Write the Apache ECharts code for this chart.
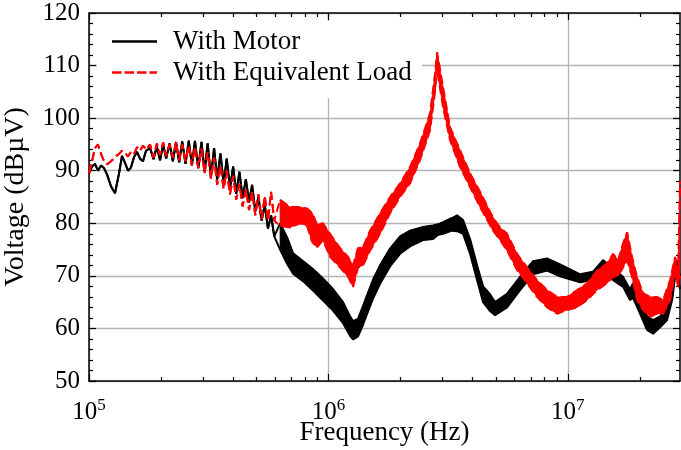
<!DOCTYPE html>
<html><head><meta charset="utf-8">
<script src="https://cdn.jsdelivr.net/npm/echarts@6/dist/echarts.min.js"></script>
<style>html,body{margin:0;padding:0;background:#fff}#c{width:681px;height:450px}</style>
</head><body><div id="c"></div>
<script>
const FONT = 'Liberation Serif';
const seriesNames = ['With Motor', 'With Equivalent Load'];
const xMajorTicks = [1e5, 1e6, 1e7];
const xMajorExponents = ['5', '6', '7'];
const xMinorTicks = [2e5,3e5,4e5,5e5,6e5,7e5,8e5,9e5,2e6,3e6,4e6,5e6,6e6,7e6,8e6,9e6,2e7];
const xRange = [1e5, 2.94e7];
const yTicks = [50,60,70,80,90,100,110,120];

// "With Motor" (black): single-line part (low frequency, visible ripples)
const motorLineFreq = [1.000e5,1.029e5,1.059e5,1.090e5,1.122e5,1.155e5,1.189e5,1.236e5,1.284e5,1.335e5,1.373e5,1.414e5,1.455e5,1.497e5,1.542e5,1.587e5,1.633e5,1.681e5,1.730e5,
1.80e5,1.86e5,1.92e5,1.98e5,2.04e5,2.10e5,2.17e5,2.24e5,2.31e5,2.38e5,2.45e5,2.53e5,2.61e5,2.69e5,2.77e5,2.86e5,2.95e5,3.04e5,3.13e5,3.23e5,3.33e5,3.43e5,3.54e5,3.65e5,3.76e5,3.88e5,4.00e5,4.12e5,4.25e5,4.38e5,4.52e5,4.66e5,4.80e5,4.95e5,5.10e5,5.26e5,5.42e5,5.59e5,5.76e5,5.94e5];
const motorLineDb = [89.5,90.8,91.3,90.0,91.0,90.5,89.3,87.0,85.7,89.5,92.8,91.5,90.0,90.6,92.6,93.6,92.3,91.8,93.8,
94.3,92.2,94.6,92.0,95.0,92.3,95.2,91.8,95.4,91.6,95.6,91.3,95.7,91.0,95.7,90.5,95.5,89.8,95.2,88.8,94.3,88.3,93.3,87.5,92.3,86.6,90.8,85.6,89.8,84.8,88.4,84.0,87.3,82.3,85.0,80.5,83.5,79.0,81.5,77.5];
// "With Motor": noisy band part (lower / upper envelope)
const motorBandFreq = [6.28e5,6.72e5,7.12e5,7.83e5,8.62e5,9.49e5,1.045e6,1.151e6,1.231e6,1.267e6,1.329e6,1.395e6,1.449e6,1.536e6,1.643e6,1.808e6,1.991e6,2.192e6,2.484e6,2.735e6,2.870e6,3.011e6,3.284e6,3.446e6,3.650e6,3.904e6,4.176e6,4.424e6,4.732e6,4.965e6,5.572e6,6.314e6,7.153e6,8.188e6,9.277e6,1.125e7,1.274e7,1.403e7,1.545e7,1.701e7,1.819e7,1.872e7,2.002e7,2.142e7,2.269e7,2.427e7,2.596e7,2.725e7,2.804e7,2.858e7,2.94e7];
const motorBandLow = [75.0,72.3,70.4,69.0,67.2,65.3,63.4,61.0,58.6,57.9,58.5,60.7,62.7,65.7,68.5,71.8,74.2,75.6,76.8,77.0,77.8,78.0,78.6,78.5,78.0,74.2,69.2,65.0,63.3,62.5,64.0,67.3,70.3,71.0,69.9,68.8,69.2,70.8,69.2,67.9,65.4,65.8,62.8,59.7,59.0,60.2,61.6,65.4,69.8,70.5,67.5];
const motorBandHigh = [80.0,77.3,74.3,72.8,71.3,69.5,67.5,65.0,62.3,61.4,61.8,64.3,66.3,69.3,72.0,75.2,77.5,78.6,79.3,79.6,79.8,80.2,81.0,81.5,80.6,77.0,72.0,68.0,66.5,65.0,66.6,69.8,72.8,73.3,72.2,70.3,70.8,73.0,71.3,69.8,67.4,68.6,65.4,62.3,61.6,62.3,64.0,67.8,73.0,73.0,70.0];

// "With Equivalent Load" (red dashed)
const loadLineFreq = [1.000e5,1.029e5,1.059e5,1.090e5,1.122e5,1.155e5,1.189e5,1.236e5,1.284e5,1.335e5,1.373e5,1.414e5,1.455e5,1.497e5,1.542e5,1.587e5,1.633e5,1.681e5,1.730e5,
1.80e5,1.86e5,1.92e5,1.98e5,2.04e5,2.10e5,2.17e5,2.24e5,2.31e5,2.38e5,2.45e5,2.53e5,2.61e5,2.69e5,2.77e5,2.86e5,2.95e5,3.04e5,3.13e5,3.23e5,3.33e5,3.43e5,3.54e5,3.65e5,3.76e5,3.88e5,4.00e5,4.12e5,4.25e5,4.38e5,4.52e5,4.66e5,4.80e5,4.95e5,5.10e5,5.26e5,5.42e5,5.59e5,5.76e5,5.94e5];
const loadLineDb = [89.5,91.8,94.3,95.0,93.2,91.8,91.2,91.8,92.6,93.2,93.8,93.4,92.7,93.6,93.2,94.5,93.8,94.8,94.0,
95.0,92.5,95.2,93.0,95.4,92.8,95.0,92.5,95.5,92.0,95.0,91.8,94.8,91.0,94.5,90.5,94.2,89.5,93.5,88.5,92.5,87.3,91.0,86.5,90.0,85.5,89.0,84.5,87.5,83.2,86.5,82.5,86.0,81.5,85.5,80.8,85.2,80.5,86.0,80.5];
const loadBandFreq = [6.28e5,6.91e5,7.61e5,8.14e5,8.54e5,8.96e5,9.49e5,1.016e6,1.118e6,1.208e6,1.267e6,1.329e6,1.395e6,1.492e6,1.643e6,1.808e6,1.991e6,2.192e6,2.413e6,2.657e6,2.788e6,2.842e6,2.870e6,3.011e6,3.221e6,3.546e6,3.904e6,4.298e6,4.871e6,5.210e6,5.572e6,6.135e6,6.753e6,7.434e6,8.188e6,9.015e6,9.924e6,1.093e7,1.203e7,1.324e7,1.458e7,1.545e7,1.621e7,1.701e7,1.768e7,1.854e7,1.945e7,2.061e7,2.205e7,2.358e7,2.498e7,2.673e7,2.804e7,2.886e7,2.94e7];
const loadBandLow = [79.5,79.2,80.0,79.5,76.5,75.4,76.8,73.6,71.6,69.8,67.9,71.6,72.0,74.8,78.0,81.9,85.0,87.6,92.0,97.7,105.0,109.8,108.0,102.1,95.8,90.7,86.9,83.1,78.6,76.8,74.8,71.1,68.6,66.0,64.0,62.8,63.5,64.0,65.4,67.3,68.6,69.8,70.0,71.6,73.0,69.8,65.4,63.5,62.2,62.8,62.8,65.4,70.5,68.0,70.0];
const loadBandHigh = [84.5,83.1,83.1,82.8,82.0,79.8,80.0,78.0,75.3,73.6,72.0,75.3,75.5,78.6,81.9,85.0,87.6,90.7,95.2,100.9,108.5,112.5,111.5,105.9,98.3,93.9,89.5,86.0,81.1,79.2,78.0,74.2,71.6,69.2,67.3,66.0,66.0,67.3,68.6,71.0,72.4,74.2,73.0,76.2,78.3,73.6,69.8,66.7,66.0,66.0,65.4,69.2,73.6,71.0,88.0];

const BLACK = '#000000', RED = '#ff0000';
const LW = 2;
const DASH = [9, 4];

function toPairs(xs, ys) { return xs.map((x, i) => [x, ys[i]]); }

function xAxisDef(position, major, withLabels) {
  const ax = {
    type: 'log', logBase: 10, min: xRange[0], max: xRange[1], position: position,
    axisLine: { show: major, onZero: false, lineStyle: { color: '#000', width: 1.5 } },
    axisTick: { show: true, inside: true, length: major ? 7 : 4, customValues: major ? xMajorTicks : xMinorTicks,
      lineStyle: { color: '#000', width: 1.2 } },
    axisLabel: { show: false },
    splitLine: { show: false },
    minorTick: { show: false }, minorSplitLine: { show: false }
  };
  if (withLabels) {
    ax.axisLabel = {
      show: true, customValues: xMajorTicks, margin: 16,
      formatter: function (v) {
        const idx = xMajorTicks.findIndex(t => Math.abs(t - v) / t < 1e-6);
        return '{b|10}{s|' + (idx >= 0 ? xMajorExponents[idx] : '') + '}';
      },
      rich: {
        b: { fontFamily: FONT, fontSize: 25, color: '#000', lineHeight: 30 },
        s: { fontFamily: FONT, fontSize: 17, color: '#000', lineHeight: 18, verticalAlign: 'top' }
      }
    };
    ax.splitLine = { show: true, lineStyle: { color: '#b3b3b3', width: 1.3 } };
    ax.name = 'Frequency (Hz)';
    ax.nameLocation = 'middle';
    ax.nameGap = 38;
    ax.nameMoveOverlap = false;
    ax.nameTextStyle = { fontFamily: FONT, fontSize: 27, color: '#000' };
  }
  return ax;
}

function yAxisDef(position, withLabels) {
  const ax = {
    type: 'value', min: yTicks[0], max: yTicks[yTicks.length - 1], interval: yTicks[1] - yTicks[0], position: position,
    axisLine: { show: true, onZero: false, lineStyle: { color: '#000', width: 1.5 } },
    axisTick: { show: true, inside: true, length: 7, lineStyle: { color: '#000', width: 1.2 } },
    minorTick: { show: true, splitNumber: 5, length: 4, lineStyle: { color: '#000', width: 1.2 } },
    axisLabel: { show: false },
    splitLine: { show: false }
  };
  if (withLabels) {
    ax.axisLabel = { show: true, margin: 9, fontFamily: FONT, fontSize: 25, color: '#000' };
    ax.splitLine = { show: true, lineStyle: { color: '#b3b3b3', width: 1.3 } };
    ax.name = 'Voltage (dBµV)';
    ax.nameLocation = 'middle';
    ax.nameGap = 59;
    ax.nameMoveOverlap = false;
    ax.nameTextStyle = { fontFamily: FONT, fontSize: 28, color: '#000' };
  }
  return ax;
}

function lineSeries(name, data, color, dashed, z) {
  return {
    name: name, type: 'line', data: data, xAxisIndex: 0, yAxisIndex: 0,
    symbol: 'none', showSymbol: false, smooth: false, sampling: false, clip: true,
    lineStyle: { color: color, width: LW, type: dashed ? DASH : 'solid' },
    itemStyle: { color: color },
    emphasis: { disabled: true }, silent: true, z: z
  };
}

function bandSeries(name, freq, low, high, color, z) {
  const data = freq.map((f, i) => [f, low[i], high[i]]);
  return {
    name: name, type: 'custom', data: data, xAxisIndex: 0, yAxisIndex: 0,
    encode: { x: 0, y: [1, 2] }, clip: true, silent: true, z: z,
    itemStyle: { color: color },
    renderItem: function (params, api) {
      const i = params.dataIndex;
      if (i >= data.length - 1) return null;
      const a = data[i], b = data[i + 1];
      const pts = [api.coord([a[0], a[1]]), api.coord([b[0], b[1]]), api.coord([b[0], b[2]]), api.coord([a[0], a[2]])];
      return { type: 'polygon', shape: { points: pts }, style: { fill: color, stroke: color, lineWidth: 0.8 } };
    }
  };
}

const ICON_SOLID = 'path://M0,0H45V2.6H0Z';
const ICON_DASH = 'path://M0,0H9.5V2.6H0Z M12.5,0H22V2.6H12.5Z M25,0H34.5V2.6H25Z M37.5,0H45V2.6H37.5Z';

const chart = echarts.init(document.getElementById('c'), null, { renderer: 'canvas' });
chart.setOption({
  animation: false,
  backgroundColor: '#fff',
  textStyle: { fontFamily: FONT },
  grid: { left: 89, right: 1, top: 13, bottom: 69, containLabel: false, outerBoundsMode: 'none' },
  legend: {
    data: [ { name: seriesNames[0], icon: ICON_SOLID }, { name: seriesNames[1], icon: ICON_DASH } ],
    orient: 'vertical', left: 97, top: 21,
    backgroundColor: '#fff', padding: [7, 10, 12, 15],
    itemWidth: 45, itemHeight: 2.6, itemGap: 4, selectedMode: false, symbolKeepAspect: false,
    textStyle: { fontFamily: FONT, fontSize: 27, color: '#000', lineHeight: 26, padding: [0, 0, 0, 11] }
  },
  xAxis: [
    xAxisDef('bottom', true, true),
    xAxisDef('bottom', false, false),
    xAxisDef('top', true, false),
    xAxisDef('top', false, false)
  ],
  yAxis: [ yAxisDef('left', true), yAxisDef('right', false) ],
  series: [
    bandSeries(seriesNames[0] + ' band', motorBandFreq, motorBandLow, motorBandHigh, BLACK, 2),
    lineSeries(seriesNames[0] + ' lower', toPairs(motorLineFreq.concat(motorBandFreq), motorLineDb.concat(motorBandLow)), BLACK, false, 2),
    lineSeries(seriesNames[0], toPairs(motorLineFreq.concat(motorBandFreq), motorLineDb.concat(motorBandHigh)), BLACK, false, 2),
    bandSeries(seriesNames[1] + ' band', loadBandFreq, loadBandLow, loadBandHigh, RED, 3),
    lineSeries(seriesNames[1] + ' lower', toPairs(loadLineFreq.concat(loadBandFreq), loadLineDb.concat(loadBandLow)), RED, true, 3),
    lineSeries(seriesNames[1], toPairs(loadLineFreq.concat(loadBandFreq), loadLineDb.concat(loadBandHigh)), RED, true, 3)
  ]
});
</script></body></html>
